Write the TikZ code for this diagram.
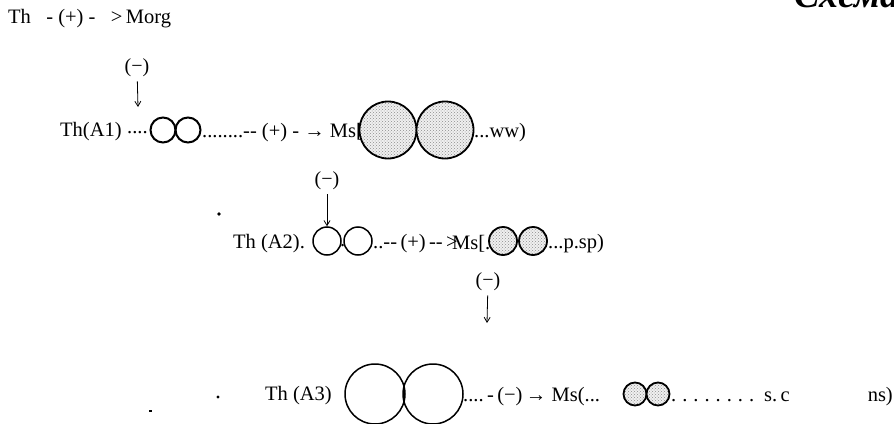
\documentclass[tikz,border=0pt]{standalone}
\usepackage{fontspec}
\setmainfont{Liberation Serif}
\usetikzlibrary{positioning,patterns,arrows.meta}

\begin{document}
\begin{tikzpicture}[x=1pt,y=-1pt,>={Straight Barb[length=5pt,width=6pt]},
    txt/.style={inner sep=0pt,anchor=west,font=\fontsize{20.5}{24}\selectfont},
    sign/.style={inner sep=1pt,font=\fontsize{20}{24}\selectfont},
    ring/.style={circle,draw,line width=1.5pt,inner sep=0pt},
    shaded ring/.style={ring,line width=1.8pt,preaction={fill=gray!12},pattern=crosshatch dots,pattern color=gray!90},
    down/.style={->,line width=0.8pt,shorten <=3pt}]

    \useasboundingbox (0,0) rectangle (894,423);

    % heading, cut off by the page edge
    \node[font=\fontsize{38}{40}\selectfont\bfseries\itshape,inner sep=0pt,anchor=base west] (head) at (794,7) {Схема};

    \node[txt] (top) at (8,19) {Th\ \ \ -\ (+)\ -\ \ \ >\,Morg};

    % row A1
    \node[sign] (m1) at (137,68) {(−)};
    \coordinate (p1) at (138,107);
    \draw[down] (m1) -- (p1);

    \node[txt] (a1) at (60,132) {Th(A1)};
    \node[txt] (a1d) at (127,133) {....};
    \node[ring,line width=2pt,minimum size=25pt] (a1l) at (163,130) {};
    \node[ring,line width=2pt,minimum size=25pt] (a1r) at (188,130) {};
    \node[txt] (a1t) at (202,133) {........-{}- (+) - → Ms[};
    \node[shaded ring,minimum size=57pt] (b1l) at (388,130) {};
    \node[shaded ring,minimum size=57pt] (b1r) at (445,130) {};
    \node[txt] (b1t) at (474,133) {...ww)};

    % row A2
    \node[sign] (m2) at (327,181) {(−)};
    \node[ring,minimum size=28pt] (a2l) at (327,241) {};
    \draw[down] (m2) -- (a2l);
    \node[txt] (a2) at (233,244) {Th (A2).};
    \node[txt] (a2d) at (340,246) {.};
    \node[ring,minimum size=28pt] (a2r) at (358,241) {};
    \node[txt] (a2t) at (373,244) {..-{}-\,(+)\,-{}-\,>};
    \node[txt] (a2m) at (452,244) {Ms[.};
    \node[shaded ring,minimum size=28pt] (b2l) at (503,241) {};
    \node[shaded ring,minimum size=28pt] (b2r) at (533,241) {};
    \node[txt] (b2t) at (548,244) {...p.sp)};

    % row A3
    \node[sign] (m3) at (488,282) {(−)};
    \coordinate (p3) at (487,323);
    \draw[down] (m3) -- (p3);

    \node[txt] (a3) at (265,396) {Th (A3)};
    \node[ring,minimum size=60pt] (a3l) at (375,394) {};
    \node[ring,minimum size=60pt] (a3r) at (433,394) {};
    \node[txt] (a3t) at (463,397) {....\,-\,(−)\,→ Ms(...};
    \node[shaded ring,minimum size=23pt] (b3l) at (635,394) {};
    \node[shaded ring,minimum size=23pt] (b3r) at (658,394) {};
    \node[txt] (b3t) at (671,397) {.\hspace{6pt}.\hspace{6pt}.\hspace{6pt}.\hspace{6pt}.\hspace{6pt}.\hspace{6pt}.\hspace{6pt}.\hspace{10pt}s.\,c};
    \node[txt,anchor=east] (b3e) at (893,397) {ns)};

    % specks of the print
    \fill (219,214) circle (1.8);
    \fill (218,397) circle (1.6);
    \fill (149,410) rectangle ++(3,2);
\end{tikzpicture}
\end{document}
